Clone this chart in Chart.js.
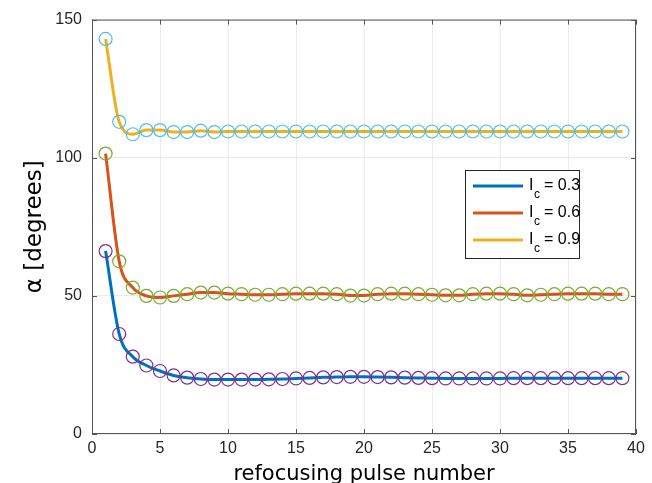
<!DOCTYPE html>
<html>
<head>
<meta charset="utf-8">
<script src="https://cdn.jsdelivr.net/npm/chart.js@4/dist/chart.umd.min.js"></script>
<style>
  html, body { margin: 0; padding: 0; background: #fff; }
  #wrap { width: 652px; height: 483px; }
</style>
</head>
<body>
<div id="wrap"><canvas id="myChart" width="652" height="483"></canvas></div>
<script>
// pulse numbers 1..39
const pulses = [1,2,3,4,5,6,7,8,9,10,11,12,13,14,15,16,17,18,19,20,
                21,22,23,24,25,26,27,28,29,30,31,32,33,34,35,36,37,38,39];

const alpha03 = [66.2,36.2,28.0,24.8,22.8,21.2,20.4,19.9,19.7,19.7,19.7,19.7,19.8,19.9,20.1,20.3,20.5,20.6,20.7,20.7,
                 20.6,20.5,20.4,20.3,20.2,20.1,20.1,20.1,20.1,20.1,20.2,20.2,20.2,20.2,20.2,20.2,20.2,20.2,20.2];
const alpha06 = [101.5,62.5,53.0,50.0,49.4,50.0,50.6,51.2,51.2,50.8,50.6,50.4,50.4,50.6,50.8,50.8,50.8,50.6,50.1,50.1,
                 50.6,50.8,50.8,50.6,50.4,50.2,50.2,50.6,50.8,50.8,50.6,50.2,50.4,50.6,50.8,50.8,50.8,50.6,50.6];
const alpha09 = [143.0,113.0,108.5,110.0,110.0,109.3,109.3,109.8,109.3,109.5,109.5,109.5,109.5,109.5,109.5,109.5,109.5,109.5,109.5,109.5,
                 109.5,109.5,109.5,109.5,109.5,109.5,109.5,109.5,109.5,109.5,109.5,109.5,109.5,109.5,109.5,109.5,109.5,109.5,109.5];

const xTicks = [0,5,10,15,20,25,30,35,40];
const yTicks = [0,50,100,150];
const seriesLabels = ['0.3', '0.6', '0.9'];

const lineColors = ['#0072BD', '#D95319', '#EDB120'];
const markerColors = ['#7E2F8E', '#77AC30', '#4DBEEE'];
const font = '"Liberation Sans", Arial, sans-serif';
const titleFont = '"DejaVu Sans", sans-serif';

function series(values, i) {
    return {
        label: 'Ic = ' + seriesLabels[i],
        data: values.map((v, k) => ({x: pulses[k], y: v})),
        borderColor: lineColors[i],
        borderWidth: 3,
        cubicInterpolationMode: 'monotone',
        pointRadius: 6.5,
        pointBorderWidth: 1.2,
        pointBorderColor: markerColors[i],
        pointBackgroundColor: 'rgba(0,0,0,0)',
        fill: false
    };
}

// frame, inward ticks and the legend box (with subscript)
const matlabLook = {
    id: 'matlabLook',
    afterDraw(chart) {
        const c = chart.ctx, a = chart.chartArea;
        const xs = chart.scales.x, ys = chart.scales.y;
        c.save();
        c.strokeStyle = '#555';
        c.lineWidth = 1;
        c.strokeRect(a.left + 0.5, a.top + 0.5, a.right - a.left - 1, a.bottom - a.top - 1);
        c.beginPath();
        xTicks.forEach(t => {
            const px = Math.round(xs.getPixelForValue(t)) + 0.5;
            c.moveTo(px, a.bottom); c.lineTo(px, a.bottom - 5);
            c.moveTo(px, a.top); c.lineTo(px, a.top + 5);
        });
        yTicks.forEach(t => {
            const py = Math.round(ys.getPixelForValue(t)) + 0.5;
            c.moveTo(a.left, py); c.lineTo(a.left + 5, py);
            c.moveTo(a.right, py); c.lineTo(a.right - 5, py);
        });
        c.stroke();

        // legend
        const bx = 465, by = 170, bw = 114, bh = 88;
        c.fillStyle = '#fff';
        c.fillRect(bx, by, bw, bh);
        c.strokeStyle = '#262626';
        c.strokeRect(bx + 0.5, by + 0.5, bw, bh);
        seriesLabels.forEach((lab, i) => {
            const y = by + 16 + i * 27;
            c.strokeStyle = lineColors[i];
            c.lineWidth = 3;
            c.beginPath();
            c.moveTo(bx + 8, y); c.lineTo(bx + 58, y);
            c.stroke();
            c.fillStyle = '#000';
            c.textBaseline = 'middle';
            c.textAlign = 'left';
            c.font = '16px ' + font;
            c.fillText('I', bx + 64, y);
            c.font = '12px ' + font;
            c.fillText('c', bx + 69, y + 9);
            c.font = '16px ' + font;
            c.fillText('= ' + lab, bx + 79, y);
        });
        c.restore();
    }
};

Chart.defaults.font.family = font;
Chart.defaults.color = '#262626';

const ctx = document.getElementById('myChart').getContext('2d');
new Chart(ctx, {
    type: 'line',
    data: {
        datasets: [series(alpha03, 0), series(alpha06, 1), series(alpha09, 2)]
    },
    options: {
        responsive: false,
        animation: false,
        layout: { padding: { top: 16, right: 16, left: 0, bottom: 0 } },
        plugins: { legend: { display: false }, tooltip: { enabled: false } },
        scales: {
            x: {
                type: 'linear', min: 0, max: 40,
                afterBuildTicks: s => { s.ticks = xTicks.map(v => ({value: v})); },
                afterFit: s => { s.height = 49; },
                grid: { color: '#ebebeb', drawTicks: false },
                border: { display: false },
                ticks: { font: { size: 16 }, padding: 5, maxRotation: 0 },
                title: { display: true, text: 'refocusing pulse number', font: { size: 21, family: titleFont }, padding: { top: 0, bottom: -4 }, color: '#000' }
            },
            y: {
                type: 'linear', min: 0, max: 150,
                afterBuildTicks: s => { s.ticks = yTicks.map(v => ({value: v})); },
                afterFit: s => { s.width = 92; },
                grid: { color: '#ebebeb', drawTicks: false },
                border: { display: false },
                ticks: { font: { size: 16 }, padding: 10 },
                title: { display: true, text: 'α [degrees]', font: { size: 23, family: titleFont }, padding: { top: 21, bottom: 0 }, color: '#000' }
            }
        }
    },
    plugins: [matlabLook]
});
</script>
</body>
</html>
